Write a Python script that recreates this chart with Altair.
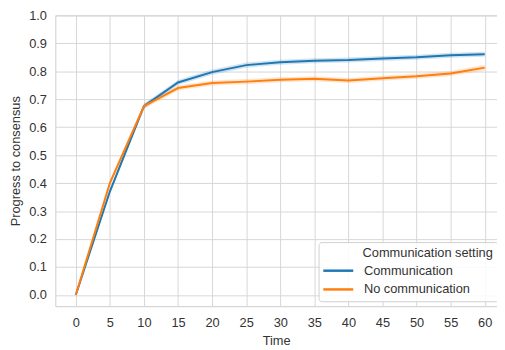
import altair as alt
import pandas as pd

time = [0, 5, 10, 15, 20, 25, 30, 35, 40, 45, 50, 55, 60]
comm = [0.0, 0.37, 0.675, 0.76, 0.797, 0.822, 0.832, 0.838, 0.840, 0.846, 0.850, 0.857, 0.861]
nocomm = [0.0, 0.40, 0.675, 0.740, 0.758, 0.763, 0.770, 0.773, 0.767, 0.775, 0.782, 0.792, 0.813]
comm_ci = [0.0, 0.010, 0.010, 0.009, 0.009, 0.009, 0.009, 0.009, 0.009, 0.009, 0.009, 0.009, 0.009]
nocomm_ci = [0.0, 0.010, 0.010, 0.009, 0.009, 0.009, 0.009, 0.009, 0.009, 0.009, 0.009, 0.009, 0.010]
series = ["Communication", "No communication"]
colors = ["#1f77b4", "#ff7f0e"]
legend_title = "\u200b" + "\u00a0" * 11 + "Communication setting"

rows = []
for name, vals, ci in [(series[0], comm, comm_ci), (series[1], nocomm, nocomm_ci)]:
    for t, v, c in zip(time, vals, ci):
        rows.append({"Time": t, "value": v, "lo": v - c, "hi": v + c, "setting": name})
df = pd.DataFrame(rows)

FONT = "Liberation Sans"
x = alt.X("Time:Q", scale=alt.Scale(domain=[-3, 61.8], nice=False, zero=False),
          axis=alt.Axis(values=time, title="Time"))
y_axis = alt.Axis(values=[i / 10 for i in range(11)], format=".1f", title="Progress to consensus")
yscale = alt.Scale(domain=[-0.04, 1.0], nice=False, zero=False)
legend = alt.Legend(title=legend_title, orient="none",
                    legendX=267, legendY=230, symbolType="M-1.6,0H1.6",
                    symbolSize=361, symbolStrokeWidth=2.5, symbolOffset=4,
                    symbolFillColor="transparent",
                    fillColor="rgba(255,255,255,0.85)", strokeColor="#d0d0d0",
                    padding=5, cornerRadius=3, labelFontSize=13,
                    titleFontSize=13, titleFontWeight="normal",
                    titleColor="#333333", labelColor="#333333",
                    titleFont=FONT, labelFont=FONT, rowPadding=1,
                    titleAlign="left", titlePadding=0,
                    labelOffset=15, offset=0, symbolOpacity=1)
color = alt.Color("setting:N", scale=alt.Scale(domain=series, range=colors), legend=legend)

band = alt.Chart(df).mark_area(opacity=0.2).encode(
    x=x,
    y=alt.Y("lo:Q", scale=yscale, axis=y_axis),
    y2="hi:Q",
    color=color,
)
line = alt.Chart(df).mark_line(strokeWidth=2).encode(
    x=x,
    y=alt.Y("value:Q", scale=yscale, axis=y_axis),
    color=color,
)

chart = alt.layer(band, line).properties(
    width=448, height=295,
    autosize=alt.AutoSizeParams(type="none"),
    padding={"left": 48, "top": 5, "right": 0, "bottom": 42},
).configure_view(
    stroke="#cccccc", strokeWidth=1
).configure_axis(
    grid=True, gridColor="#d6d6d6", gridWidth=1,
    domain=False, ticks=False,
    labelFont=FONT, titleFont=FONT, labelFontSize=13, titleFontSize=13,
    labelColor="#333333", titleColor="#333333", titleFontWeight="normal",
    labelPadding=9,
).configure_axisX(labelPadding=11, titlePadding=5).configure_axisY(titlePadding=6)

chart.save("out.html", embed_options={"renderer": "svg", "actions": False})
